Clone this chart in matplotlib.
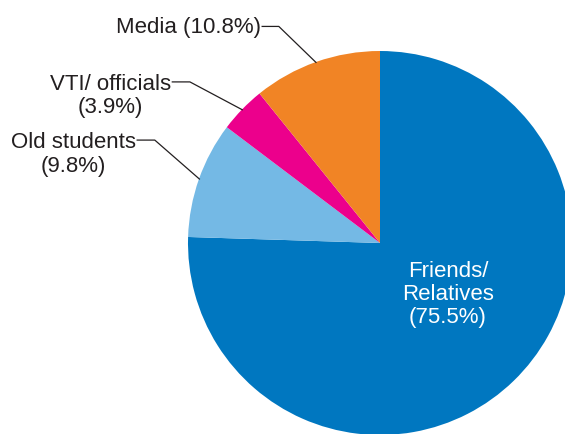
import numpy as np
from matplotlib import pyplot as plt

plt.rcParams['font.family'] = ['Liberation Sans', 'DejaVu Sans']

# share of sources, clockwise from 12 o'clock
labels = ["Friends/\nRelatives", "Old students", "VTI/ officials", "Media"]
shares = [75.5, 9.8, 3.9, 10.8]
colors = ["#0077c0", "#74b9e5", "#ec008c", "#f18425"]

ink = "#231f20"
fs = 16
gap = 25 / 192  # distance between text lines in axes units

fig = plt.figure(figsize=(5.65, 4.34), dpi=100)
# square axes so the pie stays round; it runs off the bottom/right edge
ax = fig.add_axes([188 / 565, -1 / 434, 384 / 565, 384 / 434])

wedges, _ = ax.pie(shares, colors=colors, startangle=90, counterclock=False,
                   radius=1, wedgeprops=dict(linewidth=0), frame=False)
ax.set_xlim(-1, 1)
ax.set_ylim(-1, 1)
ax.axis("off")

# big slice: label inside in white
ax.text(0.354, -0.268, "%s\n(%.1f%%)" % (labels[0], shares[0]), color="white",
        fontsize=fs, ha="center", va="center", linespacing=1.15)

# small slices: text on the left with a bent leader line
# (text right edge x, leader y, horizontal run length)
spots = {1: (-1.268, 0.536, 0.095), 2: (-1.085, 0.839, 0.095), 3: (-0.617, 1.128, 0.09)}
for i, (tx, ty, run) in spots.items():
    w = wedges[i]
    mid = np.deg2rad((w.theta1 + w.theta2) / 2)
    ex, ey = np.cos(mid) * 0.995, np.sin(mid) * 0.995
    if i == 3:
        txt = "%s (%.1f%%)" % (labels[i], shares[i])
        y0 = ty - 0.034
    else:
        txt = "%s\n(%.1f%%)" % (labels[i], shares[i])
        y0 = ty - 0.034 - gap
    ax.text(tx - 0.005, y0, txt, color=ink, fontsize=fs, ha="right",
            va="baseline", multialignment="center", linespacing=1.15,
            clip_on=False)
    ax.plot([tx, tx + run, ex], [ty, ty, ey], color=ink, lw=0.9,
            clip_on=False, solid_capstyle="butt")

fig.savefig("out.png", dpi=100)
